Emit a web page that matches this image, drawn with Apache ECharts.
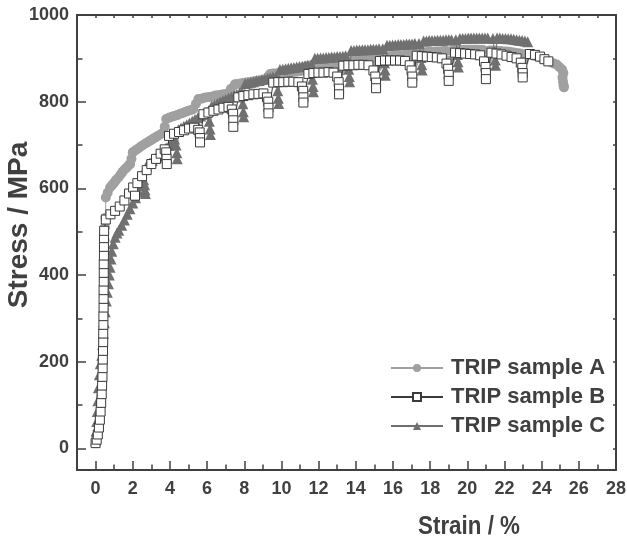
<!DOCTYPE html>
<html>
<head>
<meta charset="utf-8">
<script src="https://cdn.jsdelivr.net/npm/echarts@6/dist/echarts.min.js"></script>
<style>
html,body{margin:0;padding:0;background:#fff;}
#chart{width:627px;height:542px;}
</style>
</head>
<body>
<div id="chart"></div>
<script>
// ---- data: [strain %, stress MPa] ----
const sampleA = [
[0.03,12],[0.10,30],[0.18,55],[0.25,85],[0.30,120],[0.34,160],[0.37,200],[0.40,240],[0.42,280],[0.44,320],[0.45,360],[0.46,400],[0.47,440],[0.48,480],[0.50,510],[0.53,532],
[0.55,579],[0.65,590],[0.78,602],[0.90,608],[1.00,613],[1.10,619],[1.23,625],[1.35,632],[1.45,638],[1.57,644],[1.68,648],[1.78,653],[1.86,656],[1.93,668],
[2.00,683],[2.15,688],[2.30,692],[2.45,697],[2.60,701],[2.75,705],[2.90,709],[3.05,713],[3.20,717],[3.35,721],[3.50,725],[3.65,729],[3.72,742],
[3.80,760],[3.95,763],[4.10,765],[4.25,767],[4.40,769],[4.55,772],[4.70,774],[4.85,777],[5.00,779],[5.15,781],[5.26,783],[5.40,795],
[5.53,806],[5.70,807],[5.85,809],[6.00,810],[6.15,811],[6.30,812],[6.45,814],[6.60,815],[6.75,816],[6.90,817],[7.06,818],[7.28,830],
[7.50,840],[7.65,841],[7.80,842],[7.95,843],[8.10,844],[8.25,845],[8.40,846],[8.55,847],[8.70,848],[8.85,849],[9.00,850],[9.15,852],[9.28,858],
[9.39,864],[9.55,865],[9.70,865],[9.85,866],[10.00,866],[10.15,867],[10.30,868],[10.45,868],[10.60,869],[10.75,870],[10.90,870],[11.05,871],[11.20,878],
[11.36,882],[11.50,883],[11.65,884],[11.80,884],[11.95,885],[12.10,885],[12.25,886],[12.40,886],[12.55,887],[12.70,887],[12.85,888],[13.00,888],[13.08,865],[13.10,835],[13.15,870],
[13.30,893],[13.45,894],[13.60,894],[13.75,895],[13.90,895],[14.05,896],[14.20,896],[14.35,897],[14.50,897],[14.65,898],[14.80,898],[14.95,899],[15.05,875],[15.09,848],[15.15,880],
[15.28,903],[15.43,904],[15.58,904],[15.73,905],[15.88,905],[16.03,906],[16.18,906],[16.33,907],[16.48,907],[16.63,908],[16.78,908],[16.93,909],[17.00,885],[17.04,860],[17.10,890],
[17.22,912],[17.37,913],[17.52,913],[17.67,914],[17.82,914],[17.97,915],[18.12,915],[18.27,916],[18.42,916],[18.57,916],[18.72,917],[18.87,917],[18.96,890],[19.00,865],[19.06,895],
[19.20,918],[19.35,919],[19.50,919],[19.65,919],[19.80,920],[19.95,920],[20.10,920],[20.25,920],[20.40,920],[20.55,920],[20.70,919],[20.85,919],[20.96,893],[21.00,868],[21.06,898],
[21.20,918],[21.35,918],[21.50,918],[21.65,917],[21.80,917],[21.95,916],[22.10,916],[22.25,915],[22.40,914],[22.55,913],[22.70,912],[22.85,911],[22.94,890],[22.98,868],[23.04,895],
[23.15,910],[23.30,909],[23.45,908],[23.60,906],[23.75,904],[23.90,902],[24.05,900],[24.20,897],[24.35,894],[24.50,891],[24.65,888],[24.80,886],[24.95,880],[25.10,874],[25.17,866],[25.12,856],[25.15,846],[25.18,838],[25.20,833]
];

const sampleB = [
[0.00,12],[0.06,20],[0.12,32],[0.18,48],[0.23,66],[0.27,85],[0.30,105],[0.33,125],[0.35,145],[0.37,165],[0.38,185],[0.39,205],[0.40,225],[0.41,245],[0.41,265],[0.42,285],[0.42,305],[0.43,325],[0.43,345],[0.43,365],[0.44,385],[0.44,405],[0.44,425],[0.45,445],[0.45,465],[0.45,485],[0.46,502],
[0.55,528],[0.80,540],[1.05,548],[1.30,558],[1.55,572],[1.80,588],[2.02,602],[2.12,583],
[2.25,612],[2.50,628],[2.75,642],[3.00,656],[3.25,668],[3.50,680],[3.72,690],[3.80,683],[3.82,668],[3.83,656],
[3.95,721],[4.22,726],[4.49,730],[4.76,734],[5.03,738],[5.30,740],[5.52,735],[5.60,729],[5.62,716],[5.62,706],
[5.80,771],[6.07,775],[6.34,779],[6.61,782],[6.88,786],[7.15,788],[7.33,782],[7.40,772],[7.41,757],[7.41,742],
[7.68,810],[7.95,813],[8.22,815],[8.49,817],[8.76,818],[9.03,819],[9.22,810],[9.29,800],[9.30,786],[9.30,773],
[9.56,844],[9.83,845],[10.10,845],[10.37,846],[10.64,846],[10.91,845],[11.10,835],[11.17,825],[11.18,810],[11.18,798],
[11.45,864],[11.72,866],[11.99,867],[12.26,867],[12.53,868],[12.80,867],[13.00,858],[13.08,845],[13.10,830],[13.10,817],
[13.33,883],[13.60,884],[13.87,884],[14.14,885],[14.41,885],[14.68,884],[14.95,872],[15.05,858],[15.09,844],[15.09,831],
[15.30,894],[15.57,895],[15.84,895],[16.11,895],[16.38,895],[16.65,894],[16.90,884],[17.00,872],[17.04,858],[17.04,844],
[17.28,906],[17.55,905],[17.82,904],[18.09,903],[18.36,902],[18.63,900],[18.88,888],[18.97,876],[19.00,862],[19.00,848],
[19.34,913],[19.61,912],[19.88,911],[20.15,910],[20.42,909],[20.69,907],[20.90,893],[20.98,880],[21.00,866],[21.00,852],
[21.30,913],[21.57,911],[21.84,909],[22.11,906],[22.38,903],[22.65,900],[22.88,890],[22.96,878],[22.98,866],[22.98,856],
[23.37,910],[23.64,908],[23.91,904],[24.15,898],[24.36,893]
];

const sampleC = [
[0.00,20],[0.03,40],[0.06,62],[0.09,85],[0.12,110],[0.15,140],[0.20,170],[0.25,195],[0.33,215],[0.38,240],[0.42,265],[0.47,290],[0.52,315],[0.58,340],[0.63,360],[0.69,380],[0.74,400],[0.78,418],[0.83,437],[0.87,455],[0.95,472],[1.05,487],[1.15,497],[1.25,503],
[1.40,515],[1.55,527],[1.70,540],[1.85,553],[2.00,566],[2.15,578],[2.30,592],[2.45,606],[2.58,620],[2.64,608],[2.66,596],[2.68,588],
[2.75,652],[2.90,658],[3.05,664],[3.20,669],[3.35,675],[3.50,681],[3.65,687],[3.80,693],[3.95,699],[4.10,706],[4.25,714],[4.33,700],[4.37,682],[4.39,668],
[4.45,735],[4.60,739],[4.75,743],[4.90,747],[5.05,751],[5.20,755],[5.35,759],[5.50,763],[5.65,767],[5.80,771],[5.95,775],[6.08,779],[6.12,755],[6.16,737],[6.18,724],
[6.25,790],[6.40,793],[6.55,796],[6.70,799],[6.85,802],[7.00,805],[7.15,808],[7.30,811],[7.45,814],[7.60,817],[7.75,820],[7.88,822],[7.92,795],[7.95,777],[7.97,765],
[8.05,842],[8.20,843],[8.35,845],[8.50,846],[8.65,848],[8.80,849],[8.95,851],[9.10,852],[9.25,854],[9.40,855],[9.55,857],[9.72,858],[9.80,825],[9.83,808],[9.85,796],
[9.92,874],[10.07,875],[10.22,876],[10.37,877],[10.52,878],[10.67,879],[10.82,880],[10.97,881],[11.12,882],[11.27,883],[11.42,884],[11.60,885],[11.67,852],[11.70,835],[11.72,823],
[11.80,900],[11.95,900],[12.10,901],[12.25,901],[12.40,902],[12.55,902],[12.70,903],[12.85,903],[13.00,904],[13.15,904],[13.30,905],[13.45,906],[13.62,875],[13.65,858],[13.67,846],
[13.75,918],[13.90,918],[14.05,919],[14.20,919],[14.35,920],[14.50,920],[14.65,920],[14.80,921],[14.95,921],[15.10,921],[15.25,922],[15.45,922],[15.54,890],[15.57,873],[15.59,861],
[15.68,930],[15.83,930],[15.98,931],[16.13,931],[16.28,932],[16.43,932],[16.58,932],[16.73,933],[16.88,933],[17.03,933],[17.18,934],[17.40,934],[17.52,902],[17.55,885],[17.57,873],
[17.65,940],[17.80,940],[17.95,941],[18.10,941],[18.25,941],[18.40,942],[18.55,942],[18.70,942],[18.85,943],[19.00,943],[19.15,943],[19.38,943],[19.47,909],[19.50,892],[19.52,880],
[19.60,946],[19.75,946],[19.90,946],[20.05,947],[20.20,947],[20.35,947],[20.50,947],[20.65,947],[20.80,947],[20.95,947],[21.10,947],[21.38,946],[21.47,913],[21.50,896],[21.52,884],
[21.60,947],[21.75,947],[21.90,946],[22.05,946],[22.20,945],[22.35,945],[22.50,944],[22.65,943],[22.80,942],[22.95,941],[23.10,940],[23.25,938]
];

const seriesNames = ['TRIP sample A', 'TRIP sample B', 'TRIP sample C'];
const xMajorTicks = [0,2,4,6,8,10,12,14,16,18,20,22,24,26,28];
const xMinorTicks = [1,3,5,7,9,11,13,15,17,19,21,23,25,27];
const xTopTicks = [0,1,2,3,4,5,6,7,8,9,10,11,12,13,14,15,16,17,18,19,20,21,22,23,24,25,26,27];
const yMajorTicks = [0,200,400,600,800,1000];
const yMinorTicks = [100,300,500,700,900];
const yRightTicks = [0,100,200,300,400,500,600,700,800,900];

// ---- chart ----
const FONT = '"Liberation Sans", Arial, Helvetica, sans-serif';
const INK = '#404040';
const chart = echarts.init(document.getElementById('chart'), null, {renderer: 'canvas'});

function xAx(pos, ticks, len, showLine, showLabel) {
  return {
    type: 'value', min: -1, max: 28, position: pos, offset: 0,
    axisLine: {show: showLine, onZero: false, lineStyle: {color: INK, width: 2}},
    axisTick: {show: true, inside: true, length: len, customValues: ticks, lineStyle: {color: INK, width: 1.5}},
    axisLabel: showLabel ? {show: true, customValues: ticks, formatter: v => String(v), margin: 10, fontSize: 18, fontWeight: 'bold', color: INK, fontFamily: FONT} : {show: false},
    splitLine: {show: false}
  };
}
function yAx(pos, ticks, len, showLine, showLabel, name) {
  const a = {
    type: 'value', min: -50, max: 1000, position: pos, offset: 0,
    axisLine: {show: showLine, onZero: false, lineStyle: {color: INK, width: 2}},
    axisTick: {show: true, inside: true, length: len, customValues: ticks, lineStyle: {color: INK, width: 1.5}},
    axisLabel: showLabel ? {show: true, customValues: ticks, formatter: v => String(v), margin: 8, fontSize: 18, fontWeight: 'bold', color: INK, fontFamily: FONT} : {show: false},
    splitLine: {show: false}
  };
  if (name) {
    a.name = name;
    a.nameLocation = 'middle';
    a.nameGap = 44;
    a.nameMoveOverlap = false;
    a.nameTextStyle = {fontSize: 28, fontWeight: 'bold', color: INK, fontFamily: FONT, padding: [0, 0, 0, 35]};
  }
  return a;
}

const option = {
  animation: false,
  backgroundColor: '#fff',
  grid: {left: 77, right: 11, top: 15, bottom: 72, containLabel: false, outerBoundsMode: 'none'},
  xAxis: [
    xAx('bottom', xMajorTicks, 9, true, true),
    xAx('bottom', xMinorTicks, 5.5, false, false),
    xAx('top', xTopTicks, 3, true, false)
  ],
  yAxis: [
    yAx('left', yMajorTicks, 9, true, true, 'Stress / MPa'),
    yAx('left', yMinorTicks, 5.5, false, false),
    yAx('right', yRightTicks, 3, true, false)
  ],
  legend: {
    orient: 'vertical', left: 385, top: 352,
    itemWidth: 52, itemHeight: 10, itemGap: 7,
    textStyle: {fontSize: 22, fontWeight: 'bold', color: INK, fontFamily: FONT, lineHeight: 22, padding: [0, 0, 0, 3]},
    data: seriesNames
  },
  graphic: [{
    type: 'text', x: 469, y: 527, scaleX: 0.86,
    style: {text: 'Strain / %', font: 'bold 26px ' + FONT, fill: INK, textAlign: 'center', textVerticalAlign: 'middle'}
  }],
  series: [
    {
      name: seriesNames[0], type: 'line', xAxisIndex: 0, yAxisIndex: 0, z: 2,
      data: sampleA, showAllSymbol: true, symbol: 'circle', symbolSize: 10,
      itemStyle: {color: '#a0a0a0'}, lineStyle: {color: '#a0a0a0', width: 1}
    },
    {
      name: seriesNames[2], type: 'line', xAxisIndex: 0, yAxisIndex: 0, z: 3,
      data: sampleC, showAllSymbol: true, symbol: 'triangle', symbolSize: 11,
      itemStyle: {color: '#707070'}, lineStyle: {color: '#707070', width: 1}
    },
    {
      name: seriesNames[1], type: 'line', xAxisIndex: 0, yAxisIndex: 0, z: 4,
      data: sampleB, showAllSymbol: true, symbol: 'rect', symbolSize: 9,
      itemStyle: {color: '#ffffff', borderColor: '#3a3a3a', borderWidth: 1}, lineStyle: {color: '#3a3a3a', width: 1}
    }
  ]
};
chart.setOption(option);
</script>
</body>
</html>
